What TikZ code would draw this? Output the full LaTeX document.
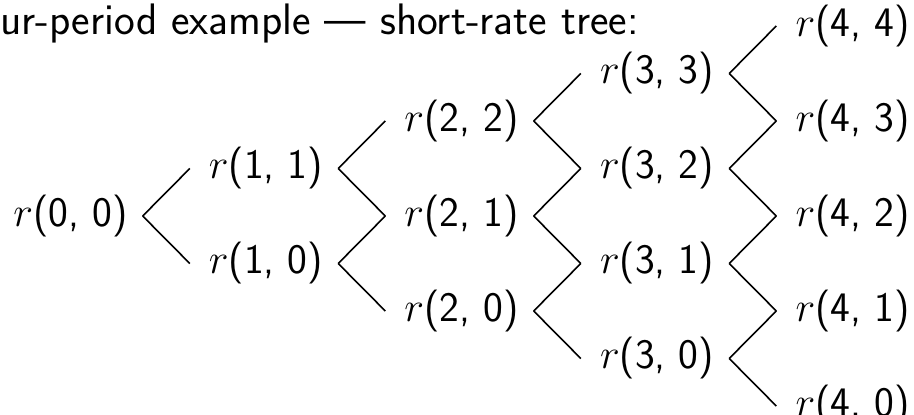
\RequirePackage{fix-cm}
\documentclass[tikz,border=0pt]{standalone}
\usetikzlibrary{positioning, calc}
% size the caption so that its lead-in spans the same width as in the slide
\newlength\leadw
\settowidth\leadw{\sffamily\fontsize{10}{12}\selectfont ur-period example --- }
\pgfmathsetmacro\capsize{10*405/\leadw}
\tikzset{
  rate/.style={inner sep=0pt, font=\sffamily\fontsize{42}{50}\selectfont, text=black},
  caption/.style={inner sep=0pt, font=\sffamily\fontsize{\capsize}{\capsize}\selectfont, text=black},
  branch/.style={draw=black, line width=1.6pt},
}
\begin{document}
\begin{tikzpicture}[x=1pt, y=1pt]
  \useasboundingbox (0,0) rectangle (914,415);
  \clip (0,0) rectangle (914,415);
  \node[caption, anchor=base west] (title) at (0,380) {\llap{Fo}ur-period example --- short-rate tree:};
  % the lattice of short rates
  \foreach \i in {0,...,4}{
    \foreach \j in {0,...,\i}{
      \node[rate] (r-\i-\j) at ({70.5+195.5*\i},{199+47.5*(2*\j-\i)}) {$r$(\i, \j)};
    }
  }
  % up and down moves
  \foreach \i [evaluate=\i as \k using int(\i+1)] in {0,...,3}{
    \foreach \j [evaluate=\j as \u using int(\j+1)] in {0,...,\i}{
      \draw[branch] ([xshift=15pt]r-\i-\j.east) -- ([xshift=-19pt]r-\k-\u.west);
      \draw[branch] ([xshift=15pt]r-\i-\j.east) -- ([xshift=-19pt]r-\k-\j.west);
    }
  }
\end{tikzpicture}
\end{document}
